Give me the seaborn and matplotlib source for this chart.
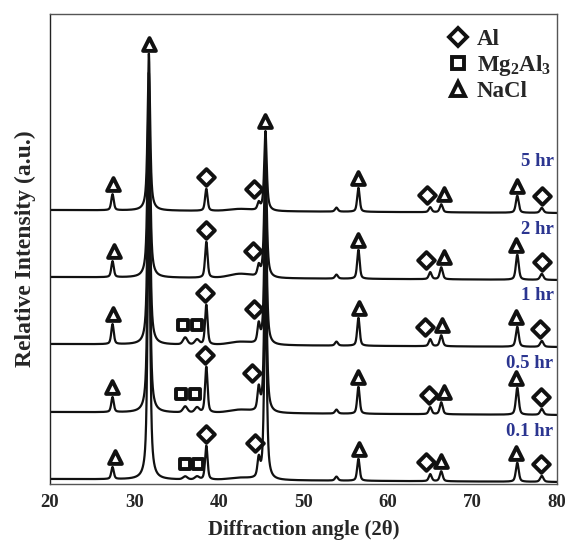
import numpy as np
import pandas as pd
import seaborn as sns
import matplotlib
matplotlib.use("Agg")
import matplotlib.pyplot as plt
from matplotlib.lines import Line2D

sns.set_theme(style="white")
plt.rcParams["font.family"] = ["Liberation Serif", "DejaVu Serif"]
plt.rcParams["font.weight"] = "bold"
plt.rcParams["mathtext.fontset"] = "custom"
plt.rcParams["mathtext.rm"] = "Liberation Serif:bold"
plt.rcParams["mathtext.default"] = "rm"

# ---------------- data ----------------
samples = ["5 hr", "2 hr", "1 hr", "0.5 hr", "0.1 hr"]
offsets = [271, 204, 137, 69, 2]          # stacked baseline of each pattern (a.u.)
bg_slope = 3                               # background excess at 20 deg vs 80 deg

# peak positions (2theta) and widths (FWHM, deg)
peak_pos   = [27.4, 31.7, 36.0, 37.4, 38.5, 42.5, 44.7, 45.5, 53.9, 56.5, 65.0, 66.3, 75.3, 78.2]
peak_fwhm  = [0.35, 0.35, 0.6, 0.6, 0.35, 3.0, 0.35, 0.35, 0.4, 0.35, 0.4, 0.4, 0.4, 0.45]
peak_eta   = [0.5, 0.75, 0.3, 0.3, 0.5, 0.0, 0.5, 0.75, 0.5, 0.5, 0.5, 0.5, 0.5, 0.5]

# peak heights for each sample (same order as peak_pos)
h_5hr  = [16, 157, 0, 0, 22, 2, 7, 80, 4, 24, 5, 8, 17, 5]
h_2hr  = [16, 205, 0, 0, 36, 4, 10, 125, 4, 29, 7, 12, 25, 6]
h_1hr  = [20, 235, 7, 5, 40, 3, 18, 150, 4, 28, 7, 11, 20, 6]
h_05hr = [15, 265, 6, 5, 46, 3, 22, 175, 4, 27, 7, 12, 27, 6]
h_01hr = [12, 300, 3, 3, 34, 2, 18, 200, 4, 22, 7, 10, 19, 6]
heights = [h_5hr, h_2hr, h_1hr, h_05hr, h_01hr]

# phase identification markers: (marker angle, index of labelled peak)
al_5hr   = [(38.5, 4), (44.1, 6), (64.6, 10), (78.2, 13)]
nacl_5hr = [(27.4, 0), (31.7, 1), (45.5, 7), (56.4, 9), (66.6, 11), (75.3, 12)]
al_2hr   = [(38.5, 4), (44.0, 6), (64.5, 10), (78.2, 13)]
nacl_2hr = [(27.6, 0), (56.4, 9), (66.6, 11), (75.2, 12)]
al_1hr   = [(38.3, 4), (44.1, 6), (64.4, 10), (78.0, 13)]
nacl_1hr = [(27.5, 0), (56.6, 9), (66.4, 11), (75.1, 12)]
mg_1hr   = [(35.7, 2), (37.4, 3)]
al_05hr  = [(38.3, 4), (43.9, 6), (64.9, 10), (78.1, 13)]
nacl_05hr = [(27.3, 0), (56.4, 9), (66.6, 11), (75.1, 12)]
mg_05hr  = [(35.5, 2), (37.2, 3)]
al_01hr  = [(38.5, 4), (44.3, 6), (64.5, 10), (78.1, 13)]
nacl_01hr = [(27.7, 0), (56.6, 9), (66.3, 11), (75.1, 12)]
mg_01hr  = [(36.0, 2), (37.5, 3)]
markers_al = [al_5hr, al_2hr, al_1hr, al_05hr, al_01hr]
markers_nacl = [nacl_5hr, nacl_2hr, nacl_1hr, nacl_05hr, nacl_01hr]
markers_mg = [[], [], mg_1hr, mg_05hr, mg_01hr]

legend_labels = ["Al", r"Mg$_2$Al$_3$", "NaCl"]
x_ticks = [20, 30, 40, 50, 60, 70, 80]

# ---------------- build profiles ----------------
two_theta = np.linspace(20, 80, 4001)


def profile(hs, off):
    y = off + bg_slope * (80 - two_theta) / 60.0
    for p, w, e, h in zip(peak_pos, peak_fwhm, peak_eta, hs):
        d = (two_theta - p) / (w / 2.0)
        y = y + h * (e / (1 + d ** 2) + (1 - e) * np.exp(-np.log(2) * d ** 2))
    return y


frames = []
for s, hs, off in zip(samples, heights, offsets):
    frames.append(pd.DataFrame({"angle": two_theta, "intensity": profile(hs, off), "sample": s}))
df = pd.concat(frames, ignore_index=True)

# ---------------- plot ----------------
fig = plt.figure(figsize=(5.65, 5.43), dpi=100)
ax = fig.add_axes([50 / 565, 1 - 484 / 543, 507 / 565, 470 / 543])

sns.lineplot(data=df, x="angle", y="intensity", units="sample", estimator=None,
             color="#111111", lw=1.6, ax=ax, legend=False, sort=False)

mk_style = dict(facecolor="white", edgecolor="#111111", linewidths=2.8, zorder=5, clip_on=False)


def peak_top(i, pidx):
    yv = profile(heights[i], offsets[i])
    return np.interp(peak_pos[pidx], two_theta, yv)


for i in range(len(samples)):
    for ang, pidx in markers_al[i]:
        ax.scatter([ang], [peak_top(i, pidx) + 12], marker="D", s=72, **mk_style)
    for ang, pidx in markers_nacl[i]:
        ax.scatter([ang], [peak_top(i, pidx) + 10], marker="^", s=85, **mk_style)
    if markers_mg[i]:
        top = max(peak_top(i, p) for _, p in markers_mg[i])
        for ang, pidx in markers_mg[i]:
            ax.scatter([ang], [top + 12], marker="s", s=52, **mk_style)
    ax.text(79.6, offsets[i] + 51, samples[i], ha="right", va="center",
            color="#2B3590", fontsize=13.5, fontweight="bold")

ax.set_xlim(20, 80)
ax.set_ylim(0, 470)
ax.set_xticks(x_ticks)
ax.set_xticks(np.arange(25, 80, 10), minor=True)
ax.set_yticks([])
ax.tick_params(axis="x", which="major", direction="in", length=4, width=1, labelsize=13.5, pad=7)
ax.tick_params(axis="x", which="minor", direction="in", length=2.5, width=0.8)
for lab in ax.get_xticklabels():
    lab.set_fontweight("bold")
for sp in ax.spines.values():
    sp.set_color("#555555")
    sp.set_linewidth(1.0)
ax.spines["left"].set_color("#222222")

ax.set_xlabel("Diffraction angle (2θ)", fontsize=15, fontweight="bold", labelpad=7)
ax.set_ylabel("Relative Intensity (a.u.)", fontsize=17, fontweight="bold", labelpad=10)

handles = [
    Line2D([], [], ls="none", marker="D", ms=9.5, mfc="white", mec="#111111", mew=2.8),
    Line2D([], [], ls="none", marker="s", ms=8.5, mfc="white", mec="#111111", mew=2.8),
    Line2D([], [], ls="none", marker="^", ms=10.5, mfc="white", mec="#111111", mew=2.8),
]
ax.legend(handles, legend_labels, loc="upper right", bbox_to_anchor=(1.015, 0.997),
          frameon=False, handletextpad=0.2, labelspacing=0.12,
          handlelength=1.2, borderaxespad=0.2, prop={"weight": "bold", "size": 16.5})

fig.savefig("out.png", dpi=100)
